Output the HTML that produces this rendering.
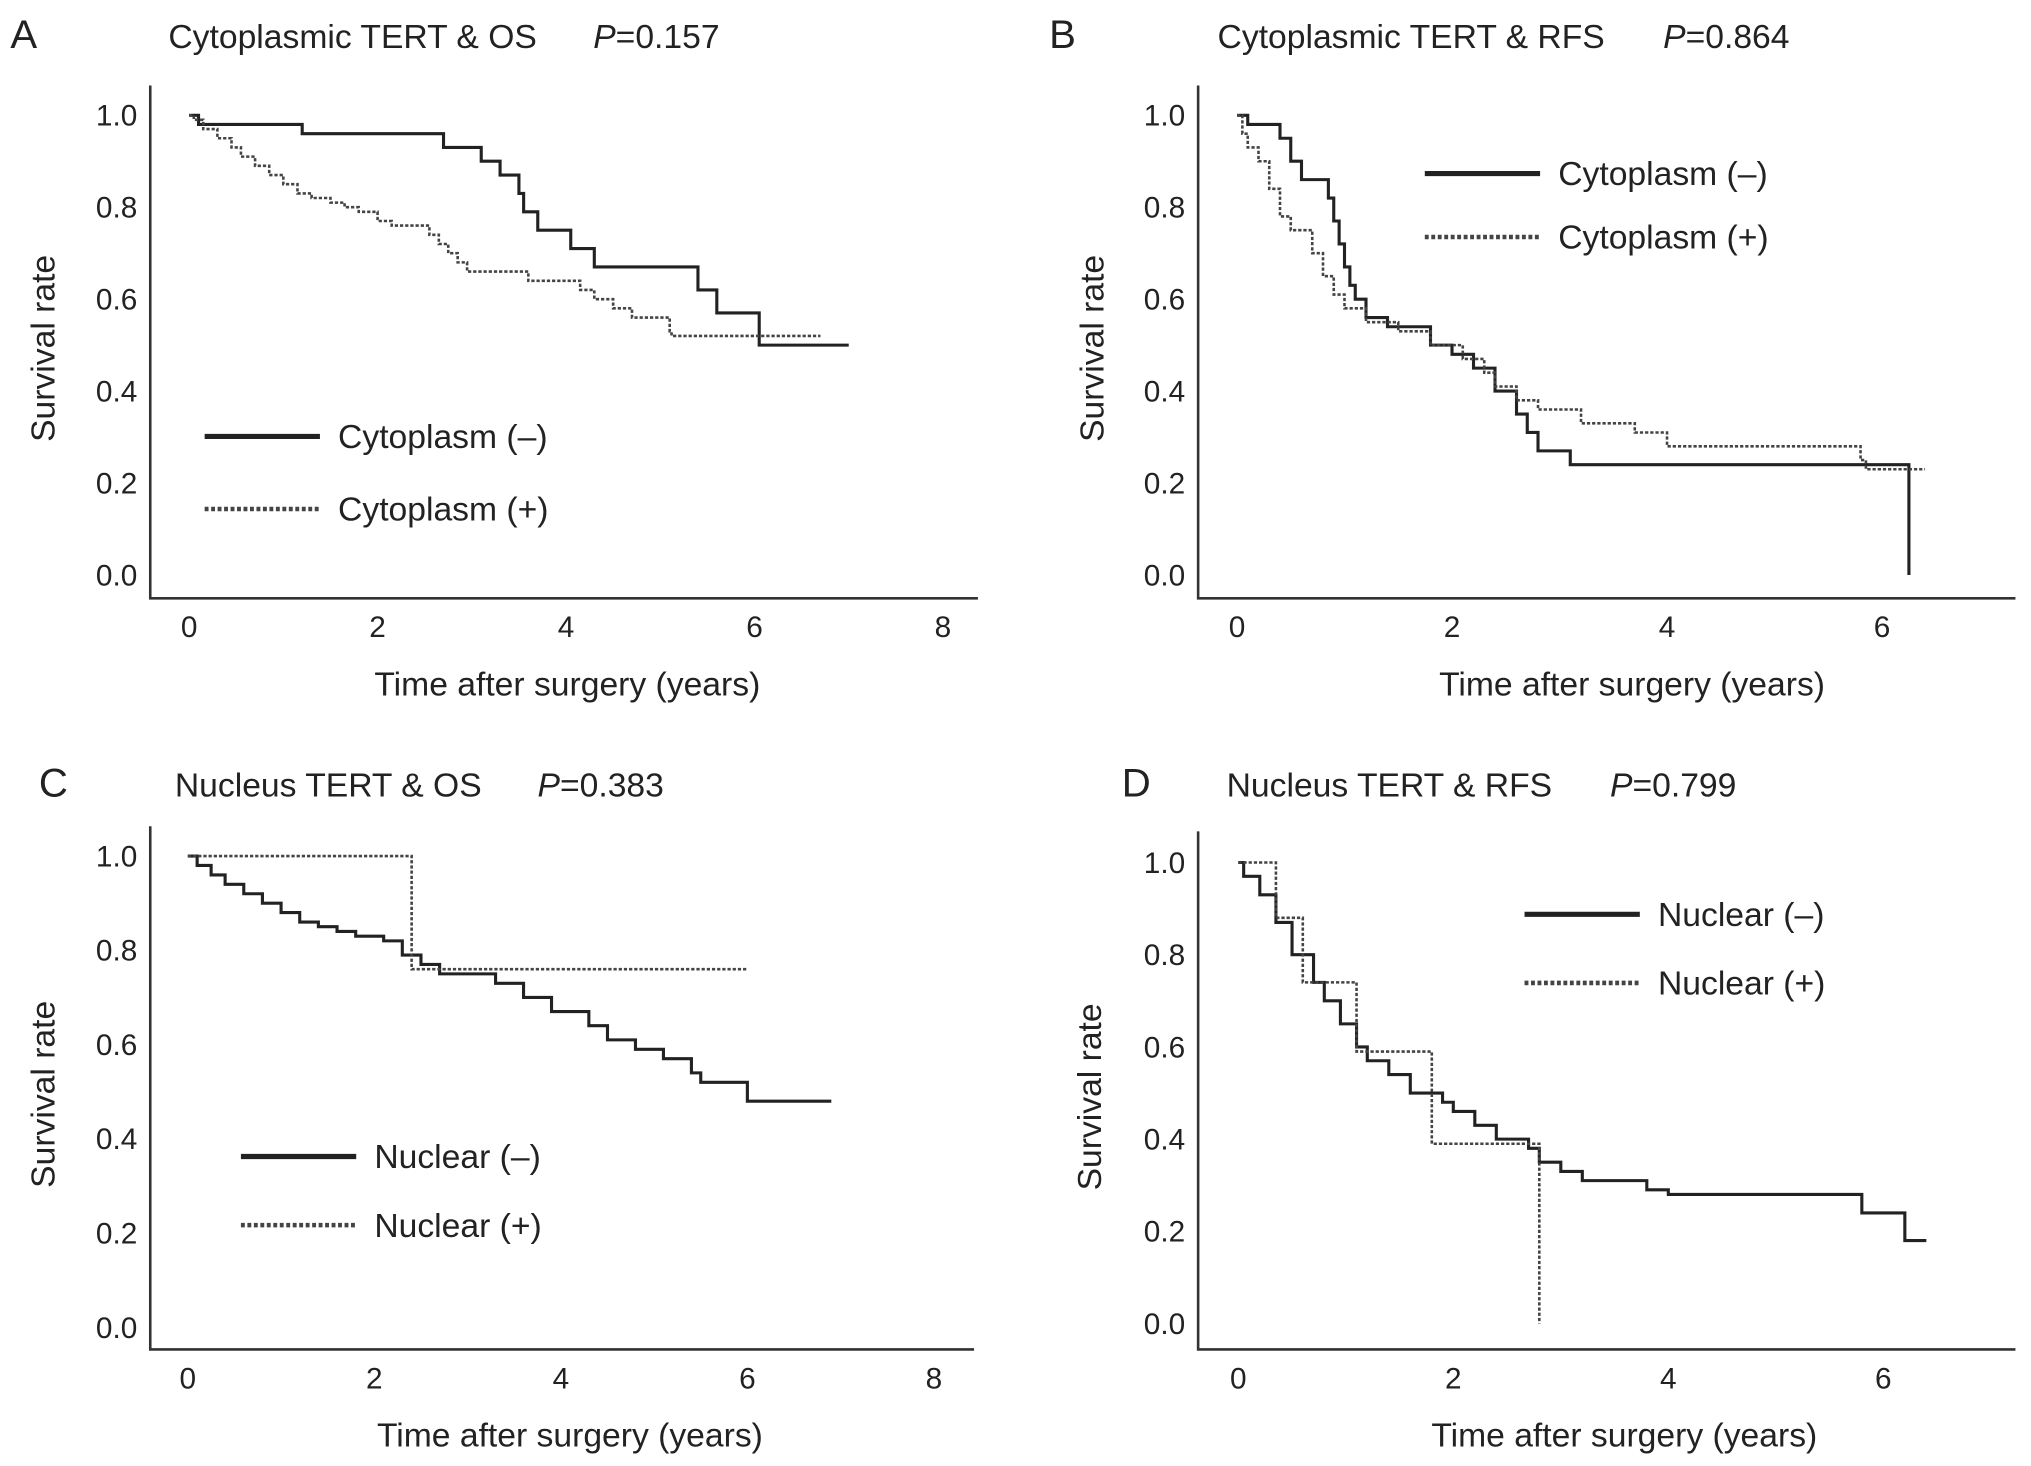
<!DOCTYPE html>
<html><head><meta charset="utf-8"><style>
html,body{margin:0;padding:0;background:#fff}
svg{display:block}
text{font-family:"Liberation Sans",sans-serif;fill:#222}
</style></head><body>
<svg id="fig" width="2031" height="1466" viewBox="0 0 1568 1132" preserveAspectRatio="none" xmlns="http://www.w3.org/2000/svg"></svg>
<script>
// ---- Data ----
const aNeg = [[0,1.0],[0.1,0.98],[1.2,0.96],[2.7,0.93],[3.1,0.9],[3.3,0.87],[3.5,0.83],[3.55,0.79],[3.7,0.75],[4.05,0.71],[4.3,0.67],[5.4,0.62],[5.6,0.57],[6.05,0.5],[7.0,0.5]];
const aPos = [[0,1.0],[0.05,0.99],[0.15,0.97],[0.3,0.95],[0.45,0.93],[0.55,0.91],[0.7,0.89],[0.85,0.87],[1.0,0.85],[1.15,0.83],[1.3,0.82],[1.5,0.81],[1.65,0.80],[1.8,0.79],[2.0,0.77],[2.15,0.76],[2.4,0.76],[2.55,0.74],[2.65,0.72],[2.75,0.70],[2.85,0.68],[2.95,0.66],[3.5,0.66],[3.6,0.64],[4.05,0.64],[4.15,0.62],[4.3,0.60],[4.5,0.58],[4.7,0.56],[5.1,0.53],[5.12,0.52],[6.7,0.52]];
const bNeg = [[0,1.0],[0.1,0.98],[0.4,0.95],[0.5,0.9],[0.6,0.86],[0.85,0.82],[0.9,0.77],[0.95,0.72],[1.0,0.67],[1.05,0.63],[1.1,0.6],[1.2,0.56],[1.4,0.54],[1.8,0.5],[2.0,0.48],[2.2,0.45],[2.4,0.4],[2.6,0.35],[2.7,0.31],[2.8,0.27],[3.1,0.24],[6.25,0.24],[6.25,0.0]];
const bPos = [[0,1.0],[0.05,0.96],[0.1,0.93],[0.2,0.9],[0.3,0.84],[0.4,0.78],[0.5,0.75],[0.7,0.7],[0.8,0.65],[0.9,0.61],[1.0,0.58],[1.2,0.55],[1.5,0.53],[1.8,0.5],[2.1,0.47],[2.3,0.44],[2.4,0.41],[2.6,0.38],[2.8,0.36],[3.2,0.33],[3.7,0.31],[4.0,0.28],[5.8,0.25],[5.85,0.23],[6.4,0.23]];
const cNeg = [[0,1.0],[0.1,0.98],[0.25,0.96],[0.4,0.94],[0.6,0.92],[0.8,0.90],[1.0,0.88],[1.2,0.86],[1.4,0.85],[1.6,0.84],[1.8,0.83],[2.1,0.82],[2.3,0.79],[2.5,0.77],[2.7,0.75],[3.3,0.73],[3.6,0.70],[3.9,0.67],[4.3,0.64],[4.5,0.61],[4.8,0.59],[5.1,0.57],[5.4,0.54],[5.5,0.52],[6.0,0.48],[6.9,0.48]];
const cPos = [[0,1.0],[2.4,0.76],[6.0,0.76]];
const dNeg = [[0,1.0],[0.05,0.97],[0.2,0.93],[0.35,0.87],[0.5,0.8],[0.7,0.74],[0.8,0.7],[0.95,0.65],[1.1,0.6],[1.2,0.57],[1.4,0.54],[1.6,0.5],[1.9,0.48],[2.0,0.46],[2.2,0.43],[2.4,0.4],[2.7,0.38],[2.8,0.35],[3.0,0.33],[3.2,0.31],[3.8,0.29],[4.0,0.28],[5.8,0.24],[6.2,0.18],[6.4,0.18]];
const dPos = [[0,1.0],[0.35,0.88],[0.6,0.74],[1.1,0.59],[1.8,0.39],[2.8,0.0]];
const yTicks = ["0.0","0.2","0.4","0.6","0.8","1.0"];
const xTicksOS = [0,2,4,6,8];
const xTicksRFS = [0,2,4,6];

const NS="http://www.w3.org/2000/svg";
const svg=document.getElementById('fig');
function mk(tag,attrs,parent){const e=document.createElementNS(NS,tag);for(const k in attrs)e.setAttribute(k,attrs[k]);(parent||svg).appendChild(e);return e;}
function txt(s,attrs,parent){const e=mk('text',attrs,parent);e.textContent=s;return e;}

function stepPath(data,sx,sy){
  let d='M'+sx(data[0][0])+','+sy(data[0][1]);
  for(let i=1;i<data.length;i++){d+=' H'+sx(data[i][0])+' V'+sy(data[i][1]);}
  return d;
}

function panel(cfg){
  const g=mk('g',{});
  
  
  const sx=v=>cfg.x0+v*cfg.xs, sy=v=>cfg.y0-v*cfg.ys;
  const L=txt(cfg.letter,{x:cfg.lx,y:cfg.ty,'font-size':31},g);
  
  const T=txt(cfg.title,{x:cfg.tx,y:cfg.ty,'font-size':26},g);
  
  const P=mk('text',{x:cfg.px,y:cfg.ty,'font-size':26},g);
  
  const it=mk('tspan',{'font-style':'italic'},P);it.textContent='P';
  const r=mk('tspan',{},P);r.textContent='='+cfg.p;
  const ax=mk('path',{d:`M${cfg.ax},${cfg.top} V${cfg.bot} H${cfg.right}`,stroke:'#333','stroke-width':2,fill:'none'},g);
  
  yTicks.forEach(t=>{const e=txt(t,{x:cfg.ax-10,y:sy(+t)+8,'font-size':23,'text-anchor':'end'},g);
    });
  cfg.xt.forEach(t=>{const e=txt(String(t),{x:sx(t),y:cfg.bot+30,'font-size':23,'text-anchor':'middle'},g);
    });
  const yt=txt('Survival rate',{x:0,y:0,'font-size':26,'text-anchor':'middle',transform:`translate(${cfg.ytx},${(cfg.top+cfg.bot)/2+5}) rotate(-90)`},g);
  
  const xt=txt('Time after surgery (years)',{x:cfg.xtx,y:cfg.bot+75,'font-size':26,'text-anchor':'middle'},g);
  
  const s1=mk('path',{d:stepPath(cfg.neg,sx,sy),stroke:'#222','stroke-width':2.4,fill:'none'},g);
  
  const s2=mk('path',{d:stepPath(cfg.pos,sx,sy),stroke:'#444','stroke-width':2,'stroke-dasharray':'2.5,1.5',fill:'none'},g);
  
  const l1=mk('line',{x1:cfg.lgx,x2:cfg.lgx+89,y1:cfg.lgy,y2:cfg.lgy,stroke:'#222','stroke-width':4},g);
  
  const t1=txt(cfg.lab+' (–)',{x:cfg.lgx+103,y:cfg.lgy+9,'font-size':26},g);
  
  const l2=mk('line',{x1:cfg.lgx,x2:cfg.lgx+89,y1:cfg.lgy+cfg.lgd,y2:cfg.lgy+cfg.lgd,stroke:'#444','stroke-width':3.5,'stroke-dasharray':'3,2'},g);
  
  const t2=txt(cfg.lab+' (+)',{x:cfg.lgx+103,y:cfg.lgy+cfg.lgd+9,'font-size':26},g);
  
}

panel({letter:'A',lx:8,tx:130,px:458,ty:37,title:'Cytoplasmic TERT & OS',p:'0.157',
  ax:116,top:66,bot:462,right:755,x0:146,xs:72.75,y0:444,ys:355,xt:xTicksOS,ytx:42,xtx:438,
  neg:aNeg,pos:aPos,lab:'Cytoplasm',lgx:158,lgy:337,lgd:56});
panel({letter:'B',lx:810,tx:940,px:1284,ty:37,title:'Cytoplasmic TERT & RFS',p:'0.864',
  ax:925,top:66,bot:462,right:1556,x0:955,xs:83,y0:444,ys:355,xt:xTicksRFS,ytx:852,xtx:1260,
  neg:bNeg,pos:bPos,lab:'Cytoplasm',lgx:1100,lgy:134,lgd:49});
panel({letter:'C',lx:30,tx:135,px:415,ty:615,title:'Nucleus TERT & OS',p:'0.383',
  ax:116,top:638,bot:1042,right:752,x0:145,xs:72,y0:1025,ys:364,xt:xTicksOS,ytx:42,xtx:440,
  neg:cNeg,pos:cPos,lab:'Nuclear',lgx:186,lgy:893,lgd:53});
panel({letter:'D',lx:866,tx:947,px:1243,ty:615,title:'Nucleus TERT & RFS',p:'0.799',
  ax:925,top:642,bot:1042,right:1556,x0:956,xs:83,y0:1022,ys:356,xt:xTicksRFS,ytx:850,xtx:1254,
  neg:dNeg,pos:dPos,lab:'Nuclear',lgx:1177,lgy:706,lgd:53});
</script>
</body></html>
